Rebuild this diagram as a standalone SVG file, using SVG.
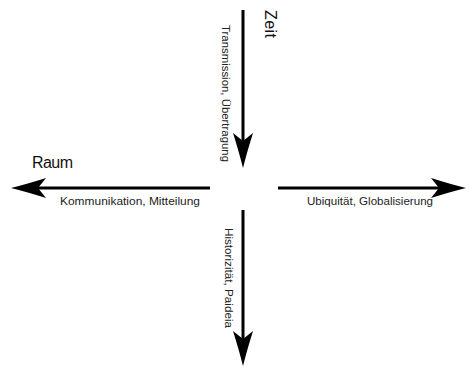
<svg xmlns="http://www.w3.org/2000/svg" width="470" height="368" viewBox="0 0 470 368">
<style>
.ax{stroke:#000;stroke-width:3;fill:none;marker-end:url(#head)}
.lbl{font-family:"Liberation Sans",Arial,sans-serif;font-size:11.5px;fill:#222}
.big{font-family:"Liberation Sans",Arial,sans-serif;font-size:16px;fill:#111}
</style>
<defs>
<marker id="head" markerUnits="userSpaceOnUse" viewBox="-30 -12 42 24" refX="0" refY="0" markerWidth="42" markerHeight="24" orient="auto">
<path d="M10,0 Q-6,-4 -25,-10 L-17,0 L-25,10 Q-6,4 10,0 Z" fill="#000"/>
</marker>
</defs>
<rect width="470" height="368" fill="#fff"/>
<g id="connectors">
<line class="ax" x1="243" y1="10" x2="243" y2="158"/>
<line class="ax" x1="210" y1="188" x2="21" y2="188"/>
<line class="ax" x1="278" y1="188" x2="456" y2="188"/>
<line class="ax" x1="243" y1="210" x2="243" y2="356"/>
</g>
<g id="zeit"><text class="big" transform="translate(265,10) rotate(90)" textLength="28">Zeit</text></g>
<g id="raum"><text class="big" x="32" y="168" textLength="41">Raum</text></g>
<g id="transmission"><text class="lbl" transform="translate(222,25) rotate(90)" textLength="137" lengthAdjust="spacingAndGlyphs">Transmission, Übertragung</text></g>
<g id="kommunikation"><text class="lbl" x="60" y="205" textLength="140" lengthAdjust="spacingAndGlyphs">Kommunikation, Mitteilung</text></g>
<g id="ubiquitaet"><text class="lbl" x="307" y="205" textLength="126" lengthAdjust="spacingAndGlyphs">Ubiquität, Globalisierung</text></g>
<g id="historizitaet"><text class="lbl" transform="translate(225,228) rotate(90)" textLength="100" lengthAdjust="spacingAndGlyphs">Historizität, Paideia</text></g>
</svg>
